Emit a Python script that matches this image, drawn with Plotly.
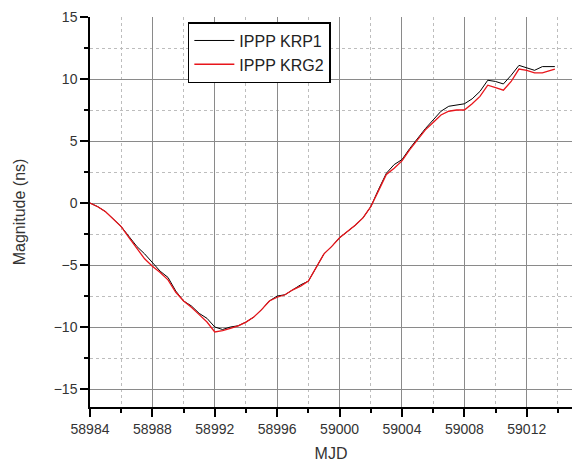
import plotly.graph_objects as go

mjd = [58984.0, 58984.5, 58985.0, 58985.5, 58986.0, 58986.5, 58987.0, 58987.5, 58988.0, 58988.5,
       58989.0, 58989.5, 58990.0, 58990.5, 58991.0, 58991.5, 58992.0, 58992.5, 58993.0, 58993.5,
       58994.0, 58994.5, 58995.0, 58995.5, 58996.0, 58996.5, 58997.0, 58997.5, 58998.0, 58998.5,
       58999.0, 58999.5, 59000.0, 59000.5, 59001.0, 59001.5, 59002.0, 59002.5, 59003.0, 59003.5,
       59004.0, 59004.5, 59005.0, 59005.5, 59006.0, 59006.5, 59007.0, 59007.5, 59008.0, 59008.5,
       59009.0, 59009.5, 59010.0, 59010.5, 59011.0, 59011.5, 59012.0, 59012.5, 59013.0, 59013.5,
       59013.8]

krp1 = [0.0, -0.3, -0.7, -1.3, -1.9, -2.7, -3.5, -4.1, -4.8, -5.5,
        -6.0, -7.1, -7.9, -8.3, -8.9, -9.3, -10.0, -10.2, -10.0, -9.9,
        -9.6, -9.2, -8.6, -7.9, -7.5, -7.4, -7.0, -6.6, -6.3, -5.2,
        -4.1, -3.5, -2.8, -2.3, -1.8, -1.2, -0.3, 1.1, 2.4, 3.1,
        3.5, 4.4, 5.2, 6.0, 6.7, 7.4, 7.8, 7.9, 8.0, 8.4,
        9.0, 9.9, 9.8, 9.6, 10.3, 11.1, 10.9, 10.7, 11.0, 11.0,
        11.0]

krg2 = [0.0, -0.3, -0.7, -1.3, -1.9, -2.8, -3.7, -4.5, -5.1, -5.6,
        -6.2, -7.2, -7.9, -8.4, -9.0, -9.6, -10.4, -10.3, -10.1, -9.9,
        -9.6, -9.2, -8.6, -7.9, -7.6, -7.4, -7.0, -6.7, -6.3, -5.2,
        -4.1, -3.5, -2.8, -2.3, -1.8, -1.2, -0.3, 1.0, 2.3, 2.8,
        3.4, 4.3, 5.1, 5.9, 6.5, 7.1, 7.4, 7.5, 7.5, 8.0,
        8.6, 9.5, 9.3, 9.1, 9.8, 10.8, 10.7, 10.5, 10.5, 10.7,
        10.8]

x_ticks = [58984, 58988, 58992, 58996, 59000, 59004, 59008, 59012]
y_ticks = [-15, -10, -5, 0, 5, 10, 15]

fig = go.Figure()
fig.add_trace(go.Scatter(x=mjd, y=krp1, mode="lines", name="IPPP KRP1",
                         line=dict(color="#000000", width=1)))
fig.add_trace(go.Scatter(x=mjd, y=krg2, mode="lines", name="IPPP KRG2",
                         line=dict(color="#e8151b", width=1.3)))

font = "Liberation Sans, Arial, sans-serif"
fig.update_layout(
    width=572, height=464,
    margin=dict(l=90, r=0, t=17, b=57),
    plot_bgcolor="white", paper_bgcolor="white",
    font=dict(family=font, size=14, color="#333333"),
    showlegend=True,
    legend=dict(x=0.203, y=0.987, xanchor="left", yanchor="top",
                bgcolor="white", bordercolor="#000000", borderwidth=1.5,
                font=dict(size=16, color="#222222"), tracegroupgap=0,
                itemwidth=40),
)
fig.update_xaxes(
    range=[58984, 59014.9],
    tickmode="array", tickvals=x_ticks, ticktext=[str(v) for v in x_ticks],
    ticks="outside", ticklen=8, tickwidth=1.5, tickcolor="#000",
    showline=True, linecolor="#000", linewidth=1.5,
    showgrid=True, gridcolor="#8a8a8a", gridwidth=1,
    zeroline=False,
    minor=dict(dtick=2, tick0=58984, ticks="outside", ticklen=4, tickwidth=1.5, tickcolor="#000",
               showgrid=True, gridcolor="#bdbdbd", griddash="dot", gridwidth=1),
    title=dict(text="MJD", font=dict(size=16, color="#333333"), standoff=12),
)
fig.update_yaxes(
    range=[-16.45, 15.0],
    tickmode="array", tickvals=y_ticks,
    ticks="outside", ticklen=8, tickwidth=1.5, tickcolor="#000",
    showline=True, linecolor="#000", linewidth=1.5,
    showgrid=True, gridcolor="#8a8a8a", gridwidth=1,
    zeroline=False,
    minor=dict(dtick=2.5, tick0=0, ticks="outside", ticklen=4, tickwidth=1.5, tickcolor="#000",
               showgrid=True, gridcolor="#bdbdbd", griddash="dot", gridwidth=1),
    title=dict(text="Magnitude (ns)", font=dict(size=16, color="#333333"), standoff=24),
)

fig.write_html("out.html")
